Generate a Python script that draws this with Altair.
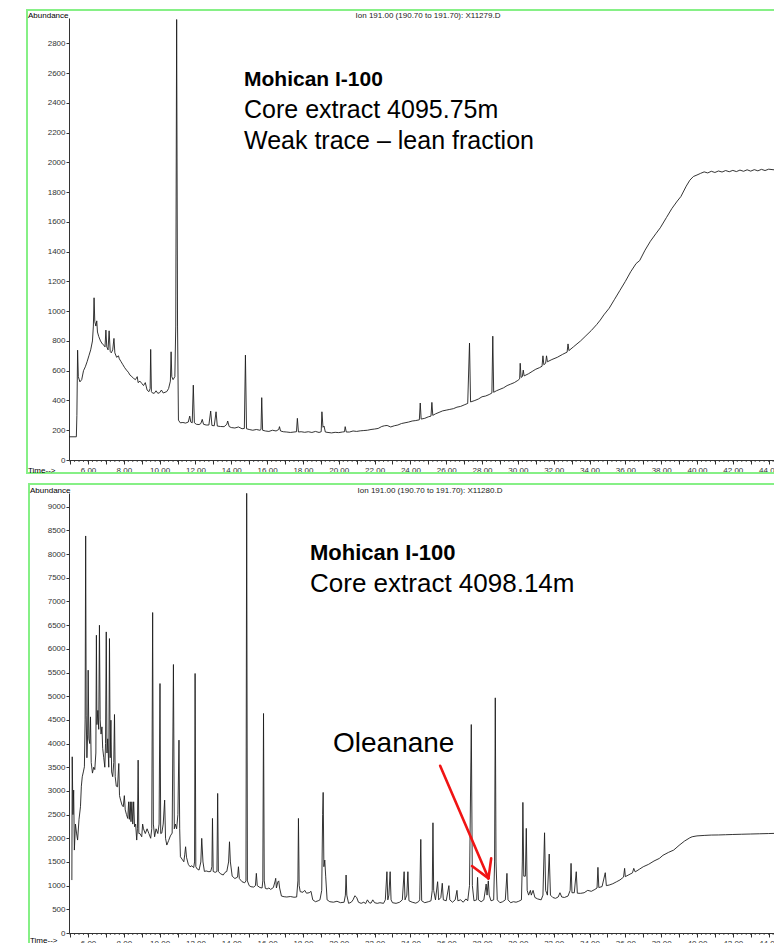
import altair as alt
import pandas as pd

# ---------------- data ----------------
# Panel 1: Ion 191 trace, core extract 4095.75 m  (time [min], abundance)
top_points = [
    (4.94, 156), (5.35, 156), (5.38, 300), (5.42, 738), (5.46, 560), (5.55, 525), (5.65, 540),
    (5.75, 600), (5.85, 626), (5.95, 660), (6.05, 700), (6.15, 740), (6.25, 800), (6.30, 900),
    (6.34, 1090), (6.38, 930), (6.44, 900), (6.49, 935), (6.53, 860), (6.60, 830), (6.70, 800),
    (6.80, 780), (6.90, 770), (6.95, 760), (7.00, 873), (7.05, 760), (7.12, 740), (7.18, 868),
    (7.24, 730), (7.30, 720), (7.38, 740), (7.45, 817), (7.50, 720), (7.60, 690), (7.70, 700),
    (7.75, 680), (7.85, 660), (7.95, 640), (8.05, 620), (8.15, 604), (8.25, 590), (8.35, 570),
    (8.45, 560), (8.55, 548), (8.65, 540), (8.75, 560), (8.80, 520), (8.90, 530), (9.00, 515),
    (9.10, 500), (9.20, 520), (9.30, 470), (9.40, 459), (9.47, 480), (9.50, 743), (9.54, 460),
    (9.60, 450), (9.70, 448), (9.80, 465), (9.90, 448), (10.00, 452), (10.10, 470), (10.20, 450),
    (10.30, 455), (10.40, 460), (10.50, 480), (10.60, 530), (10.64, 727), (10.68, 560),
    (10.75, 540), (10.85, 560), (10.90, 900), (10.95, 2960), (11.00, 900), (11.05, 268),
    (11.15, 250), (11.30, 252), (11.45, 248), (11.60, 255), (11.68, 295), (11.74, 255),
    (11.82, 250), (11.88, 503), (11.94, 250), (12.05, 240), (12.20, 238), (12.30, 245),
    (12.38, 273), (12.45, 240), (12.60, 235), (12.75, 235), (12.85, 329), (12.92, 232),
    (13.05, 230), (13.15, 324), (13.22, 228), (13.40, 225), (13.60, 224), (13.75, 240),
    (13.80, 262), (13.88, 225), (14.00, 218), (14.20, 215), (14.40, 222), (14.60, 210),
    (14.73, 212), (14.79, 705), (14.85, 210), (15.00, 205), (15.20, 200), (15.40, 205),
    (15.60, 200), (15.66, 205), (15.70, 419), (15.75, 200), (15.90, 195), (16.10, 192),
    (16.30, 200), (16.50, 195), (16.65, 205), (16.69, 224), (16.75, 195), (16.90, 190),
    (17.10, 188), (17.30, 185), (17.50, 188), (17.64, 190), (17.69, 280), (17.75, 188),
    (17.90, 190), (18.10, 186), (18.30, 190), (18.50, 185), (18.70, 192), (18.90, 185),
    (19.02, 190), (19.06, 324), (19.12, 220), (19.18, 228), (19.25, 188), (19.40, 185),
    (19.60, 182), (19.80, 186), (20.00, 184), (20.20, 188), (20.32, 190), (20.36, 224),
    (20.42, 188), (20.60, 188), (20.80, 195), (21.00, 192), (21.20, 196), (21.40, 198),
    (21.60, 200), (21.80, 205), (22.00, 208), (22.20, 212), (22.40, 225), (22.55, 230),
    (22.70, 232), (22.90, 222), (23.10, 230), (23.30, 235), (23.50, 245), (23.70, 250),
    (23.90, 255), (24.10, 262), (24.30, 265), (24.50, 270), (24.55, 383), (24.60, 275),
    (24.80, 280), (25.00, 290), (25.15, 295), (25.20, 387), (25.25, 300), (25.40, 310),
    (25.60, 320), (25.80, 330), (26.00, 335), (26.20, 340), (26.40, 345), (26.60, 355),
    (26.80, 360), (27.00, 370), (27.20, 380), (27.30, 786), (27.36, 390), (27.60, 400),
    (27.80, 410), (28.00, 425), (28.20, 430), (28.40, 440), (28.55, 450), (28.60, 832),
    (28.65, 455), (28.80, 465), (29.00, 475), (29.20, 485), (29.40, 500), (29.60, 510),
    (29.80, 520), (30.00, 535), (30.10, 545), (30.13, 650), (30.18, 555), (30.25, 560),
    (30.30, 604), (30.35, 565), (30.60, 580), (30.80, 595), (31.00, 610), (31.20, 620),
    (31.35, 630), (31.40, 700), (31.45, 640), (31.55, 650), (31.60, 700), (31.65, 660),
    (31.90, 675), (32.20, 690), (32.50, 710), (32.75, 725), (32.80, 780), (32.85, 735),
    (33.10, 760), (33.50, 800), (33.80, 835), (34.10, 870), (34.40, 910), (34.60, 940),
    (34.80, 975), (35.10, 1020), (35.40, 1080), (35.70, 1140), (36.00, 1200), (36.30, 1265),
    (36.60, 1320), (36.80, 1340), (37.10, 1410), (37.40, 1470), (37.70, 1520), (37.95, 1560),
    (38.30, 1630), (38.60, 1690), (38.90, 1740), (39.10, 1770), (39.40, 1840), (39.60, 1880),
    (39.80, 1905), (40.00, 1915), (40.20, 1926), (40.40, 1936), (40.60, 1929), (40.80, 1940),
    (41.00, 1932), (41.20, 1942), (41.40, 1935), (41.60, 1945), (41.80, 1937), (42.00, 1946),
    (42.20, 1938), (42.40, 1948), (42.60, 1940), (42.80, 1950), (43.00, 1941), (43.20, 1951),
    (43.40, 1943), (43.60, 1953), (43.80, 1945), (44.00, 1954), (44.30, 1950),
]

# Panel 2: Ion 191 trace, core extract 4098.14 m  (time [min], abundance)
bot_points = [
    (5.10, 1118), (5.12, 3720), (5.16, 2500), (5.20, 3017), (5.24, 1751), (5.30, 2300),
    (5.36, 2110), (5.42, 1962), (5.50, 2400), (5.58, 2665), (5.63, 3100), (5.68, 3298),
    (5.74, 3400), (5.80, 3509), (5.84, 4500), (5.87, 8383), (5.90, 4600), (5.94, 3700),
    (5.98, 4200), (6.01, 5549), (6.05, 4100), (6.10, 4000), (6.14, 4563), (6.18, 3600),
    (6.25, 3376), (6.32, 3500), (6.38, 3450), (6.44, 3800), (6.47, 6287), (6.50, 4400),
    (6.55, 4700), (6.60, 4300), (6.64, 6498), (6.68, 4500), (6.73, 4200), (6.78, 4352),
    (6.82, 3900), (6.88, 3700), (6.94, 3500), (6.98, 4000), (7.02, 6357), (7.06, 3800),
    (7.10, 4100), (7.16, 3500), (7.20, 6216), (7.24, 3700), (7.28, 4493), (7.32, 3400),
    (7.38, 3300), (7.44, 3600), (7.48, 4613), (7.52, 3300), (7.58, 3100), (7.65, 3087),
    (7.72, 3579), (7.76, 2900), (7.82, 2806), (7.90, 2700), (7.97, 2665), (8.03, 2900),
    (8.08, 2600), (8.15, 2500), (8.22, 2419), (8.27, 2770), (8.31, 2400), (8.36, 2770),
    (8.40, 2350), (8.45, 2770), (8.50, 2300), (8.55, 2770), (8.60, 2243), (8.66, 2300),
    (8.72, 1962), (8.76, 2200), (8.80, 3650), (8.84, 2100), (8.90, 2100), (9.00, 2032),
    (9.05, 2300), (9.10, 2200), (9.20, 2100), (9.30, 2200), (9.40, 2100), (9.50, 2000),
    (9.56, 2200), (9.61, 6766), (9.65, 2300), (9.72, 2032), (9.80, 2200), (9.90, 2100),
    (9.97, 2300), (10.02, 5267), (10.06, 2100), (10.12, 2110), (10.20, 2300), (10.28, 2806),
    (10.33, 2000), (10.40, 1857), (10.50, 1950), (10.60, 2050), (10.70, 2110), (10.77, 5669),
    (10.82, 2200), (10.88, 2300), (10.95, 2200), (11.02, 2500), (11.08, 4072), (11.12, 2200),
    (11.16, 1610), (11.25, 1560), (11.35, 1504), (11.40, 1650), (11.45, 1821), (11.50, 1600),
    (11.60, 1450), (11.70, 1399), (11.80, 1420), (11.90, 1380), (11.95, 1500), (11.98, 5479),
    (12.02, 1400), (12.10, 1350), (12.20, 1329), (12.30, 1500), (12.35, 1998), (12.42, 1500),
    (12.50, 1300), (12.60, 1310), (12.75, 1294), (12.85, 1300), (12.92, 1400), (12.95, 2419),
    (12.99, 1300), (13.10, 1280), (13.20, 1300), (13.24, 2947), (13.28, 1300), (13.40, 1250),
    (13.55, 1224), (13.65, 1280), (13.75, 1300), (13.85, 1500), (13.90, 1926), (13.95, 1500),
    (14.05, 1200), (14.20, 1150), (14.35, 1180), (14.40, 1399), (14.45, 1150), (14.60, 1083),
    (14.75, 1060), (14.82, 1100), (14.86, 9283), (14.90, 1100), (15.00, 1000), (15.10, 977),
    (15.25, 970), (15.35, 1000), (15.40, 1259), (15.45, 1000), (15.60, 960), (15.72, 950),
    (15.76, 1100), (15.80, 4635), (15.84, 1100), (15.90, 943), (16.00, 930), (16.10, 950),
    (16.20, 920), (16.35, 960), (16.45, 1100), (16.48, 1154), (16.52, 950), (16.60, 1080),
    (16.65, 1100), (16.70, 950), (16.80, 780), (16.95, 766), (17.10, 760), (17.30, 770),
    (17.50, 755), (17.65, 760), (17.72, 1100), (17.75, 2419), (17.79, 1000), (17.85, 872),
    (18.00, 860), (18.10, 900), (18.20, 840), (18.35, 850), (18.45, 880), (18.55, 700),
    (18.70, 661), (18.85, 680), (18.95, 700), (19.05, 900), (19.10, 2500), (19.13, 2968),
    (19.17, 1400), (19.22, 1540), (19.27, 1200), (19.35, 700), (19.50, 661), (19.70, 650),
    (19.90, 670), (20.10, 640), (20.30, 650), (20.37, 800), (20.41, 1224), (20.45, 800),
    (20.55, 626), (20.70, 650), (20.80, 700), (20.90, 787), (21.00, 750), (21.10, 650),
    (21.25, 626), (21.40, 650), (21.50, 620), (21.60, 700), (21.70, 640), (21.80, 630),
    (21.90, 700), (22.00, 640), (22.15, 626), (22.30, 640), (22.50, 626), (22.60, 700),
    (22.69, 1294), (22.74, 700), (22.80, 800), (22.87, 1294), (22.92, 700), (23.00, 640),
    (23.20, 626), (23.40, 650), (23.55, 700), (23.65, 1294), (23.70, 700), (23.80, 800),
    (23.86, 1294), (23.92, 680), (24.10, 650), (24.30, 630), (24.45, 660), (24.52, 700),
    (24.58, 1976), (24.63, 680), (24.80, 640), (25.00, 660), (25.15, 680), (25.22, 900),
    (25.26, 2327), (25.30, 900), (25.40, 700), (25.52, 1083), (25.58, 700), (25.70, 750),
    (25.78, 1050), (25.84, 700), (26.00, 680), (26.15, 1000), (26.20, 700), (26.35, 650),
    (26.50, 700), (26.60, 900), (26.65, 680), (26.80, 700), (26.95, 650), (27.10, 720),
    (27.20, 680), (27.30, 1000), (27.40, 4401), (27.46, 1000), (27.55, 680), (27.70, 700),
    (27.75, 1174), (27.80, 700), (27.95, 660), (28.10, 700), (28.20, 950), (28.23, 1034),
    (28.28, 800), (28.35, 1100), (28.40, 800), (28.50, 680), (28.65, 700), (28.70, 1500),
    (28.74, 4965), (28.78, 1500), (28.85, 700), (29.00, 640), (29.15, 660), (29.30, 700),
    (29.39, 1259), (29.45, 700), (29.60, 640), (29.75, 661), (29.90, 650), (30.05, 670),
    (30.20, 700), (30.25, 1500), (30.28, 2757), (30.33, 1200), (30.42, 1200), (30.47, 2209),
    (30.52, 900), (30.60, 800), (30.70, 900), (30.75, 800), (30.85, 900), (30.95, 750),
    (31.10, 720), (31.30, 700), (31.40, 800), (31.49, 2116), (31.55, 900), (31.65, 800),
    (31.75, 1667), (31.82, 800), (31.95, 750), (32.10, 732), (32.25, 760), (32.35, 850),
    (32.45, 760), (32.60, 750), (32.80, 780), (32.92, 900), (32.97, 1470), (33.02, 850),
    (33.15, 850), (33.26, 1294), (33.32, 840), (33.50, 837), (33.70, 850), (33.90, 900),
    (34.10, 880), (34.30, 920), (34.42, 950), (34.47, 1386), (34.52, 960), (34.70, 980),
    (34.88, 1273), (34.94, 1000), (35.10, 1013), (35.30, 1040), (35.50, 1080), (35.70, 1120),
    (35.90, 1180), (35.96, 1365), (36.00, 1190), (36.20, 1230), (36.40, 1270), (36.47, 1365),
    (36.55, 1290), (36.80, 1350), (37.00, 1399), (37.30, 1450), (37.60, 1520), (37.90, 1575),
    (38.10, 1640), (38.40, 1700), (38.70, 1751), (39.00, 1850), (39.30, 1940), (39.60, 2010),
    (39.73, 2032), (40.00, 2050), (40.40, 2060), (40.80, 2068), (41.20, 2070), (41.60, 2075),
    (42.00, 2080), (42.50, 2085), (43.00, 2090), (43.50, 2095), (44.00, 2100), (44.30, 2103),
]

# axis tick values
x_unit_ticks = list(range(5, 45))          # labelled every 2.00
x_minor_ticks = [5 + 0.25 * i for i in range(158)]
top_y_ticks = [0, 200, 400, 600, 800, 1000, 1200, 1400, 1600, 1800, 2000, 2200, 2400, 2600, 2800]
bot_y_ticks = [0, 500, 1000, 1500, 2000, 2500, 3000, 3500, 4000, 4500, 5000, 5500, 6000,
               6500, 7000, 7500, 8000, 8500, 9000]

# annotation arrow (Oleanane), data coordinates: tails and common tip
arrow_t = [25.66, 27.44, 28.51]
arrow_v = [3530, 1414, 1576]
arrow_tip_t = [28.36, 28.36, 28.36]
arrow_tip_v = [1154, 1154, 1154]

top_labels = ["Mohican I-100", "Core extract 4095.75m", "Weak trace \u2013 lean fraction"]
bot_labels = ["Mohican I-100", "Core extract 4098.14m", "Oleanane"]

# ---------------- chart ----------------
FONT = "Liberation Sans"
W = 705
H_TOP = 442          # top panel plot height
GAP = 33             # between the two plot areas
H_BOT = 440          # bottom panel plot height
B0 = H_TOP + GAP     # y offset of the bottom panel
H = B0 + H_BOT
X_DOMAIN = [4.94, 44.3]
GREEN = "#86f086"
TOP_YMAX = 2970
BOT_YMAX = 9290
AX = "#333333"

one = pd.DataFrame({"k": [0]})


def xs():
    return alt.Scale(domain=X_DOMAIN, nice=False, zero=False)


def x_axis(offset):
    return alt.Axis(
        values=x_unit_ticks, orient="bottom", offset=offset,
        labelExpr="datum.value % 2 == 0 ? format(datum.value, '.2f') : ''",
        tickSize=4, labelFontSize=8, labelFont=FONT, labelColor=AX,
        domain=True, domainColor=AX, domainWidth=1, tickColor=AX, title=None, grid=False,
        labelPadding=2, labelFlush=False, labelOverlap=False,
    )


def y_axis(vals):
    return alt.Axis(
        values=vals, orient="left", format="d", tickSize=3, labelFontSize=8, labelFont=FONT,
        labelColor=AX, domain=True, domainColor=AX, domainWidth=1, tickColor=AX, title=None,
        grid=False, labelPadding=1, labelOverlap=False,
    )


def text_layer(txt, x, y, size, bold=False, color="black", align="left"):
    return alt.Chart(one).mark_text(
        text=txt, align=align, baseline="alphabetic", font=FONT, fontSize=size,
        fontWeight="bold" if bold else "normal", color=color,
    ).encode(x=alt.value(x), y=alt.value(y))


def frame_layer(x, y, y2):
    return alt.Chart(one).mark_rect(fillOpacity=0, stroke=GREEN, strokeWidth=2).encode(
        x=alt.value(x), x2=alt.value(W + 20), y=alt.value(y), y2=alt.value(y2)
    )


def panel(points, ymax, yticks, y_top, y_bottom, ion_label, fx, fy, fy2, ax, ion_x, time_y):
    df = pd.DataFrame(points, columns=["time", "abundance"])
    yscale = alt.Scale(domain=[0, ymax], nice=False, range=[y_bottom, y_top])
    xaxis = x_axis(y_bottom - H)
    yaxis = y_axis(yticks)
    line = alt.Chart(df).mark_line(color="#1e1e1e", strokeWidth=0.9).encode(
        x=alt.X("time:Q", scale=xs(), axis=xaxis),
        y=alt.Y("abundance:Q", scale=yscale, axis=yaxis),
    )
    minor_ticks = alt.Chart(pd.DataFrame({"time": x_minor_ticks})).mark_rule(
        color=AX, strokeWidth=0.8
    ).encode(
        x=alt.X("time:Q", scale=xs(), axis=xaxis),
        y=alt.value(y_bottom), y2=alt.value(y_bottom + 2),
    )
    layers = [
        frame_layer(fx, fy, fy2),
        line,
        minor_ticks,
        text_layer("Abundance", ax, y_top, 8),
        text_layer(ion_label, ion_x, y_top, 8, color="#222", align="center"),
        text_layer("Time-->", ax, time_y, 8),
    ]
    return layers, yscale, xaxis, yaxis


top_layers, _, _, _ = panel(top_points, TOP_YMAX, top_y_ticks, 0, H_TOP,
                            "Ion 191.00 (190.70 to 191.70): X11279.D",
                            -42, -8, 455, -41, 359, 455)
top_layers += [
    text_layer(top_labels[0], 175, 68, 21, bold=True),
    text_layer(top_labels[1], 175, 100, 25),
    text_layer(top_labels[2], 175, 131, 25),
]

bot_layers, bot_yscale, bot_xaxis, bot_yaxis = panel(
    bot_points, BOT_YMAX, bot_y_ticks, B0, H,
    "Ion 191.00 (190.70 to 191.70): X11280.D",
    -40, B0 - 9, H + 40, -39, 361, H + 10)

arrow_df = pd.DataFrame({"time": arrow_t, "abundance": arrow_v,
                         "t2": arrow_tip_t, "v2": arrow_tip_v})
arrow = alt.Chart(arrow_df).mark_rule(color="#f01414", strokeWidth=2.6, strokeCap="round").encode(
    x=alt.X("time:Q", scale=xs(), axis=bot_xaxis),
    x2="t2:Q",
    y=alt.Y("abundance:Q", scale=bot_yscale, axis=bot_yaxis),
    y2="v2:Q",
)
bot_layers += [
    text_layer(bot_labels[0], 241, B0 + 67, 22, bold=True),
    text_layer(bot_labels[1], 241, B0 + 99, 26),
    text_layer(bot_labels[2], 264, B0 + 259, 28),
    arrow,
]

top = alt.layer(*top_layers)
bot = alt.layer(*bot_layers)

chart = alt.layer(top, bot).resolve_scale(
    x="independent", y="independent"
).resolve_axis(
    x="independent", y="independent"
).properties(
    width=W, height=H,
    autosize=alt.AutoSizeParams(type="none"),
    padding={"left": 69, "top": 18, "right": 0, "bottom": 10},
).configure_view(strokeWidth=0)

chart.save("out.html", embed_options={"renderer": "svg", "actions": False})
